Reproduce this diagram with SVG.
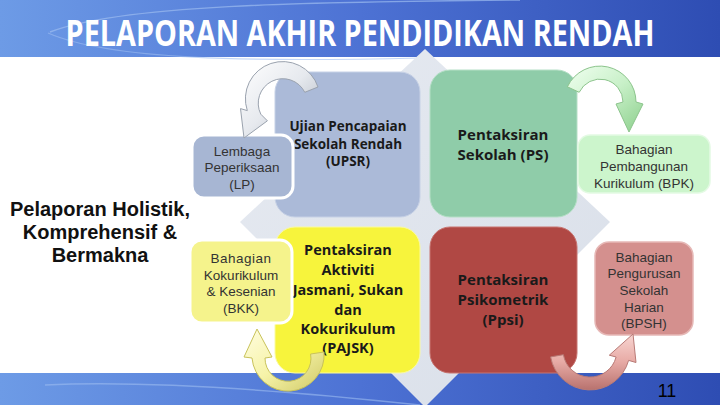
<svg xmlns="http://www.w3.org/2000/svg" width="720" height="405" viewBox="0 0 720 405">
  <defs>
    <linearGradient id="band" x1="0" y1="0" x2="1" y2="0">
      <stop offset="0" stop-color="#6d9be6"/>
      <stop offset="0.5" stop-color="#4d72d4"/>
      <stop offset="1" stop-color="#2e4db3"/>
    </linearGradient>
    <linearGradient id="diam" x1="0" y1="0" x2="1" y2="1">
      <stop offset="0" stop-color="#e6eaf1"/>
      <stop offset="1" stop-color="#d9dfe9"/>
    </linearGradient>
    <linearGradient id="gGray" x1="0" y1="0" x2="1" y2="1">
      <stop offset="0" stop-color="#ffffff"/>
      <stop offset="0.5" stop-color="#e6e9ee"/>
      <stop offset="1" stop-color="#a9b0bb"/>
    </linearGradient>
    <linearGradient id="gGreen" x1="0" y1="0" x2="1" y2="1">
      <stop offset="0" stop-color="#f0fff0"/>
      <stop offset="0.5" stop-color="#c8f0c8"/>
      <stop offset="1" stop-color="#8ccf8c"/>
    </linearGradient>
    <linearGradient id="gYellow" x1="0" y1="0" x2="1" y2="1">
      <stop offset="0" stop-color="#fffde0"/>
      <stop offset="0.5" stop-color="#f6f3a8"/>
      <stop offset="1" stop-color="#cfc966"/>
    </linearGradient>
    <linearGradient id="gPink" x1="0" y1="0" x2="0" y2="1">
      <stop offset="0" stop-color="#f8d6d2"/>
      <stop offset="0.5" stop-color="#e7aaa5"/>
      <stop offset="1" stop-color="#b8726e"/>
    </linearGradient>
    <style>
      .big { font-family: "Open Sans", "DejaVu Sans", sans-serif; font-weight: bold; fill: #1a1a1a; text-anchor: middle; }
      .small { font-family: "Liberation Sans", Arial, sans-serif; font-size: 13.5px; fill: #333333; text-anchor: middle; }
      .side { font-family: "Liberation Sans", Arial, sans-serif; font-size: 20px; font-weight: bold; fill: #111111; text-anchor: middle; }
    </style>
  </defs>

  <!-- background -->
  <rect x="0" y="0" width="720" height="405" fill="#ffffff"/>
  <rect x="0" y="0" width="720" height="57" fill="url(#band)"/>
  <path d="M 50 32 C 120 5 300 2 520 0" fill="none" stroke="#9dbcf0" stroke-width="1.5" opacity="0.7"/>
  <path d="M 48 33 C 110 60 250 62 420 58" fill="none" stroke="#9dbcf0" stroke-width="1.2" opacity="0.6"/>
  <rect x="0" y="373" width="720" height="32" fill="url(#band)"/>
  <path d="M 45 385 C 150 380 300 392 420 405" fill="none" stroke="#9dbcf0" stroke-width="1.5" opacity="0.6"/>

  <!-- diamond -->
  <polygon points="425,49 610,222 425,407 240,222" fill="url(#diam)"/>

  <!-- large boxes -->
  <g id="upsr">
    <rect x="275" y="72" width="145" height="145" rx="20" fill="#abbad8" stroke="#c6d1e6" stroke-width="1"/>
    <text class="big" font-size="13.5" x="348" y="131">Ujian Pencapaian</text>
    <text class="big" font-size="13.5" x="348" y="149">Sekolah Rendah</text>
    <text class="big" font-size="13.5" x="348" y="166">(UPSR)</text>
  </g>
  <g id="ps">
    <rect x="430" y="70" width="147" height="147" rx="20" fill="#8fcca9" stroke="#b5dfc6" stroke-width="1"/>
    <text class="big" font-size="15" x="503" y="140">Pentaksiran</text>
    <text class="big" font-size="15" x="503" y="160">Sekolah (PS)</text>
  </g>
  <g id="pajsk">
    <rect x="275" y="227" width="145" height="146" rx="20" fill="#f7f43c" stroke="#fafaa0" stroke-width="1"/>
    <text class="big" font-size="14.5" x="348" y="255">Pentaksiran</text>
    <text class="big" font-size="14.5" x="348" y="275">Aktiviti</text>
    <text class="big" font-size="14.5" x="348" y="295">Jasmani, Sukan</text>
    <text class="big" font-size="14.5" x="348" y="315">dan</text>
    <text class="big" font-size="14.5" x="348" y="334">Kokurikulum</text>
    <text class="big" font-size="14.5" x="348" y="353">(PAJSK)</text>
  </g>
  <g id="ppsi">
    <rect x="430" y="227" width="147" height="146" rx="20" fill="#b04844" stroke="#c77470" stroke-width="1"/>
    <text class="big" font-size="15" x="503" y="285">Pentaksiran</text>
    <text class="big" font-size="15" x="503" y="305">Psikometrik</text>
    <text class="big" font-size="15" x="503" y="325">(Ppsi)</text>
  </g>

  <!-- small boxes -->
  <g id="lp">
    <rect x="192" y="135" width="101" height="63" rx="12" fill="#a7b6d3" stroke="#ffffff" stroke-width="3"/>
    <text class="small" x="242" y="156">Lembaga</text>
    <text class="small" x="242" y="172">Peperiksaan</text>
    <text class="small" x="242" y="189">(LP)</text>
  </g>
  <g id="bkk">
    <rect x="190" y="240" width="102" height="83" rx="12" fill="#f5f38c" stroke="#ffffff" stroke-width="3"/>
    <text class="small" x="241" y="263" letter-spacing="0.5">Bahagian</text>
    <text class="small" x="241" y="280">Kokurikulum</text>
    <text class="small" x="241" y="296">&amp; Kesenian</text>
    <text class="small" x="241" y="313">(BKK)</text>
  </g>
  <g id="bpk">
    <rect x="578" y="135" width="132" height="58" rx="12" fill="#ccf5cc" stroke="#e4fae4" stroke-width="1.5"/>
    <text class="small" x="644" y="154">Bahagian</text>
    <text class="small" x="644" y="171">Pembangunan</text>
    <text class="small" x="644" y="188">Kurikulum (BPK)</text>
  </g>
  <g id="bpsh">
    <rect x="595" y="242" width="98" height="93" rx="14" fill="#d4908e" stroke="#e6b8b6" stroke-width="1.5"/>
    <text class="small" x="644" y="262">Bahagian</text>
    <text class="small" x="644" y="278">Pengurusan</text>
    <text class="small" x="644" y="295">Sekolah</text>
    <text class="small" x="644" y="312">Harian</text>
    <text class="small" x="644" y="328">(BPSH)</text>
  </g>

  <!-- connectors -->
  <g id="connectors" stroke-width="1" stroke-linejoin="round">
    <!-- UPSR -> LP (gray) -->
    <path d="M 318 87 A 37 37 0 0 0 247.3 110.6 L 240.5 108.6 L 244 138 L 267.4 120.8 L 260.8 114.2 A 23 23 0 0 1 304.8 92.3 Z" fill="url(#gGray)" stroke="#9aa2ae"/>
    <!-- PS -> BPK (green) -->
    <path d="M 567.4 86.8 A 36 36 0 0 1 636 102 L 643 104 L 629 132 L 616 104 L 623 102 A 23 23 0 0 0 579.2 92.3 Z" fill="url(#gGreen)" stroke="#8cc48c"/>
    <!-- PAJSK -> BKK (yellow) -->
    <path d="M 324 352 A 36 36 0 1 1 252 358 L 244 357 L 257 329 L 272 357 L 265 358 A 23 23 0 1 0 310.6 354 Z" fill="url(#gYellow)" stroke="#c8c25a"/>
    <!-- Ppsi -> BPSH (pink) -->
    <path d="M 550.6 356.9 A 40 40 0 0 0 628.6 360.4 L 636 362.5 L 633 334 L 609.3 355.2 L 616.1 357 A 27 27 0 0 1 563.4 354.7 Z" fill="url(#gPink)" stroke="#b87a76"/>
  </g>

  <!-- title and side text -->
  <text transform="translate(360,46) scale(0.8,1)" x="0" y="0" font-family="'Open Sans', 'DejaVu Sans', sans-serif" font-weight="bold" font-size="36" fill="#ffffff" text-anchor="middle">PELAPORAN AKHIR PENDIDIKAN RENDAH</text>
  <text class="side" x="100" y="216">Pelaporan Holistik,</text>
  <text class="side" x="100" y="239">Komprehensif &amp;</text>
  <text class="side" x="100" y="262">Bermakna</text>
  <text x="667" y="397" font-family="'Liberation Sans', Arial, sans-serif" font-size="18" fill="#000000" text-anchor="middle">11</text>
</svg>
